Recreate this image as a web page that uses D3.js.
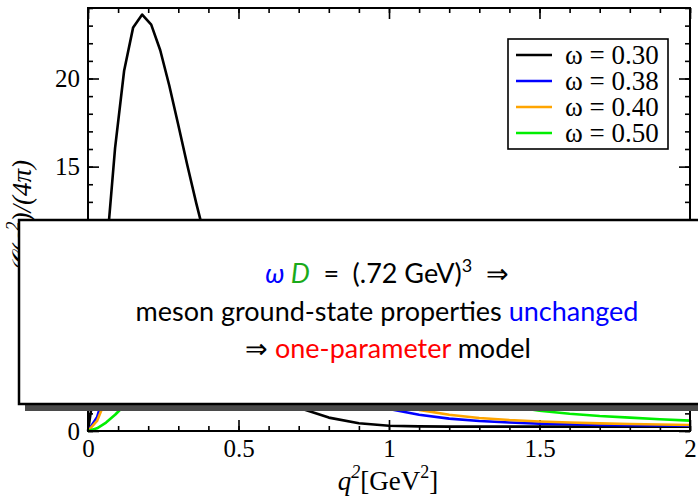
<!DOCTYPE html>
<html>
<head>
<meta charset="utf-8">
<script src="https://cdn.jsdelivr.net/npm/d3@7"></script>
<style>
  body { margin: 0; background: #fff; }
  svg { display: block; }
</style>
</head>
<body>
<div id="chart"></div>
<script>
// q^2 grid [GeV^2]
const qsq = [0, 0.03, 0.06, 0.09, 0.12, 0.15, 0.18, 0.21, 0.24, 0.27, 0.30,
    0.33, 0.36, 0.39, 0.42, 0.45, 0.48, 0.51, 0.54, 0.57, 0.60,
    0.7, 0.8, 0.9, 1.0, 1.1, 1.2, 1.3, 1.4, 1.5, 1.6, 1.7, 1.8, 1.9, 2.0];

// G(q^2)/(4pi) for each omega
const w030 = [0, 3.49, 9.97, 16.06, 20.44, 22.90, 23.63, 23.06, 21.60, 19.60, 17.36,
    15.08, 12.90, 10.87, 9.07, 7.50, 6.15, 5.02, 4.07, 3.29, 2.66,
    1.32, 0.76, 0.44, 0.30, 0.26, 0.25, 0.25, 0.25, 0.25, 0.25, 0.25, 0.25, 0.25, 0.25];
const w038 = [0, 0.78, 2.49, 4.53, 6.52, 8.27, 9.66, 10.68, 11.34, 11.66, 11.70,
    11.51, 11.14, 10.64, 10.04, 9.38, 8.69, 7.99, 7.30, 6.63, 5.99,
    4.16, 2.80, 1.86, 1.25, 0.92, 0.70, 0.57, 0.48, 0.42, 0.38, 0.35, 0.33, 0.31, 0.30];
const w040 = [0, 0.57, 1.83, 3.38, 4.96, 6.41, 7.65, 8.62, 9.33, 9.80, 10.03,
    10.06, 9.94, 9.68, 9.32, 8.89, 8.40, 7.88, 7.34, 6.80, 6.26,
    4.63, 3.31, 2.33, 1.62, 1.20, 0.92, 0.74, 0.62, 0.54, 0.48, 0.43, 0.40, 0.37, 0.34];
const w050 = [0, 0.15, 0.48, 0.92, 1.43, 1.96, 2.48, 2.98, 3.45, 3.86, 4.22,
    4.52, 4.77, 4.97, 5.11, 5.21, 5.26, 5.27, 5.24, 5.19, 5.11,
    4.69, 4.14, 3.56, 2.99, 2.48, 2.03, 1.66, 1.40, 1.15, 0.98, 0.85, 0.76, 0.67, 0.59];

const legendLabels = ["\u03c9 = 0.30", "\u03c9 = 0.38", "\u03c9 = 0.40", "\u03c9 = 0.50"];
const colors = ["#000000", "#0000ff", "#ffa500", "#00ee00"];

const xTicks = [0, 0.5, 1, 1.5, 2];
const yTicks = [0, 5, 10, 15, 20];

var margin = { top: 8, right: 8, bottom: 68, left: 88 };
let width = 698 - margin.left - margin.right,
    height = 499 - margin.top - margin.bottom;

var x = d3.scaleLinear().domain([0, 2]).range([0, width]),
    y = d3.scaleLinear().domain([0, 24]).range([height, 0]);

var svg = d3.select("#chart").append("svg")
    .attr("width", 698)
    .attr("height", 499);

var g = svg.append("g")
    .attr("transform", "translate(" + margin.left + "," + margin.top + ")");

var serif = "'Liberation Serif', 'Times New Roman', serif";

// minor ticks
var xMinor = d3.range(0, 2.0001, 0.1).map(d => +d.toFixed(1));
var yMinor = d3.range(0, 24.5, 1);

function styleAxis(sel) {
    sel.select(".domain").remove();
    sel.selectAll("line").attr("stroke", "#000").attr("stroke-width", 1.6);
    sel.selectAll("text").attr("font-family", serif).attr("font-size", 25).attr("fill", "#000");
}

// bottom
g.append("g").attr("transform", "translate(0," + height + ")")
    .call(d3.axisBottom(x).tickValues(xMinor).tickSize(-5).tickFormat(""))
    .call(styleAxis);
g.append("g").attr("transform", "translate(0," + height + ")")
    .call(d3.axisBottom(x).tickValues(xTicks).tickSize(-11).tickPadding(8).tickFormat(d3.format("")))
    .call(styleAxis);
// top
g.append("g")
    .call(d3.axisTop(x).tickValues(xMinor).tickSize(-5).tickFormat(""))
    .call(styleAxis);
g.append("g")
    .call(d3.axisTop(x).tickValues(xTicks).tickSize(-11).tickFormat(""))
    .call(styleAxis);
// left
g.append("g")
    .call(d3.axisLeft(y).tickValues(yMinor).tickSize(-5).tickFormat(""))
    .call(styleAxis);
g.append("g")
    .call(d3.axisLeft(y).tickValues(yTicks).tickSize(-11).tickPadding(8).tickFormat(d3.format("")))
    .call(styleAxis);
// right
g.append("g").attr("transform", "translate(" + width + ",0)")
    .call(d3.axisRight(y).tickValues(yMinor).tickSize(-5).tickFormat(""))
    .call(styleAxis);
g.append("g").attr("transform", "translate(" + width + ",0)")
    .call(d3.axisRight(y).tickValues(yTicks).tickSize(-11).tickFormat(""))
    .call(styleAxis);

// curves
var series = [w030, w038, w040, w050];
var plotLine = d3.line()
    .x(function (d, i) { return x(qsq[i]); })
    .y(function (d) { return y(d); });

series.forEach(function (s, k) {
    g.append("path")
        .datum(s)
        .attr("d", plotLine)
        .style("fill", "none")
        .style("stroke-width", "2.6px")
        .style("stroke-linejoin", "round")
        .style("stroke", colors[k]);
});

// frame
g.append("rect")
    .attr("width", width)
    .attr("height", height)
    .attr("fill", "none")
    .attr("stroke", "#000")
    .attr("stroke-width", 2);

// legend
var legend = g.append("g").attr("transform", "translate(" + (508 - margin.left) + "," + (39 - margin.top) + ")");
legend.append("rect")
    .attr("width", 160).attr("height", 110)
    .attr("fill", "#fff").attr("stroke", "#000").attr("stroke-width", 1.6);
legendLabels.forEach(function (lab, i) {
    var yy = 16 + i * 26;
    legend.append("line")
        .attr("x1", 8).attr("x2", 44).attr("y1", yy).attr("y2", yy)
        .attr("stroke", colors[i]).attr("stroke-width", 2.6);
    legend.append("text")
        .attr("x", 57).attr("y", yy + 9)
        .attr("font-family", serif).attr("font-size", 27)
        .text(lab);
});

// axis labels
var xl = svg.append("text")
    .attr("x", 388).attr("y", 490)
    .attr("text-anchor", "middle")
    .attr("font-family", serif).attr("font-size", 27);
xl.append("tspan").attr("font-style", "italic").text("q");
xl.append("tspan").attr("font-style", "italic").attr("font-size", 18).attr("dy", -12).text("2");
xl.append("tspan").attr("dy", 12).text("[GeV");
xl.append("tspan").attr("font-size", 18).attr("dy", -12).text("2");
xl.append("tspan").attr("dy", 12).text("]");

var yl = svg.append("text")
    .attr("transform", "translate(31,160) rotate(-90)")
    .attr("text-anchor", "end")
    .attr("font-family", serif).attr("font-size", 27)
    .attr("font-style", "italic");
yl.append("tspan").text("\ud835\udca2(q");
yl.append("tspan").attr("font-size", 18).attr("dy", -12).text("2");
yl.append("tspan").attr("dy", 12).text(")/(4\u03c0)");

// overlay note
var note = svg.append("g");
note.append("rect")
    .attr("x", 25).attr("y", 227).attr("width", 700).attr("height", 184)
    .attr("fill", "#4a4a4a");
note.append("rect")
    .attr("x", 19).attr("y", 220).attr("width", 700).attr("height", 184)
    .attr("fill", "#fff").attr("stroke", "#000").attr("stroke-width", 2.5);

var sans = "Lato, 'Open Sans', sans-serif";
var t1 = note.append("text").attr("x", 387).attr("y", 283)
    .attr("text-anchor", "middle").attr("font-family", sans).attr("font-size", 27);
t1.append("tspan").attr("fill", "#0000ff").attr("font-style", "italic").text("\u03c9 ");
t1.append("tspan").attr("fill", "#1aaa1a").attr("font-style", "italic").text("D");
t1.append("tspan").text("\u2002=\u2002(.72 GeV)");
t1.append("tspan").attr("font-size", 18).attr("dy", -11).text("3");
t1.append("tspan").attr("dy", 11).text("\u2002\u21d2");

var t2 = note.append("text").attr("x", 387).attr("y", 321)
    .attr("text-anchor", "middle").attr("font-family", sans).attr("font-size", 27);
t2.append("tspan").text("meson ground-state properties ");
t2.append("tspan").attr("fill", "#0000ff").text("unchanged");

var t3 = note.append("text").attr("x", 388).attr("y", 358)
    .attr("text-anchor", "middle").attr("font-family", sans).attr("font-size", 27);
t3.append("tspan").text("\u21d2 ");
t3.append("tspan").attr("fill", "#ff0000").text("one-parameter");
t3.append("tspan").text(" model");
</script>
</body>
</html>
